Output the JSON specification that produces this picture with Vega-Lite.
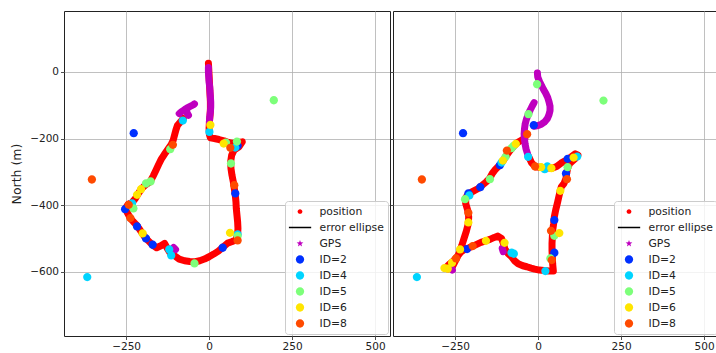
{
"$schema": "https://vega.github.io/schema/vega-lite/v6.json",
"padding": {"left": 10, "top": 10, "right": 0, "bottom": 0},
"background": "white",
"spacing": -3,
"config": {
  "font": "DejaVu Sans",
  "view": {"stroke": "#222222", "strokeWidth": 1},
  "axis": {"domain": false, "grid": true, "gridColor": "#b0b0b0", "gridWidth": 0.8, "tickColor": "#222222", "tickSize": 3.5, "tickWidth": 0.8, "labelFontSize": 10.5, "labelColor": "#222222", "labelPadding": 2, "titleFontSize": 12.5, "titleFontWeight": "normal", "titleColor": "#222222", "labelFont": "DejaVu Sans", "titleFont": "DejaVu Sans"},
  "legend": {"orient": "bottom-right", "offset": 2, "padding": 3.5, "fillColor": "rgba(255,255,255,0.8)", "strokeColor": "#cccccc", "cornerRadius": 3, "symbolSize": 500, "clipHeight": 14, "rowPadding": 2, "labelOffset": 8, "labelFontSize": 10.8, "labelColor": "#222222", "labelFont": "DejaVu Sans", "symbolStrokeWidth": 0, "symbolOffset": 0, "labelLimit": 0}
},
"resolve": {"scale": {"color": "independent", "shape": "independent"}, "legend": {"color": "independent", "shape": "independent"}},
"datasets": {
  "pathL": [
    {"i":1,"x":-2,"y":26},{"i":2,"x":-1,"y":10},{"i":3,"x":0,"y":-10},{"i":4,"x":1,"y":-30},{"i":5,"x":2,"y":-50},{"i":6,"x":3,"y":-70},{"i":7,"x":4,"y":-90},{"i":8,"x":4,"y":-110},{"i":9,"x":3,"y":-130},{"i":10,"x":1,"y":-150},
    {"i":11,"x":0,"y":-170},{"i":12,"x":1,"y":-188},{"i":13,"x":4,"y":-198},{"i":14,"x":16,"y":-200},{"i":15,"x":30,"y":-203},{"i":16,"x":45,"y":-207},{"i":17,"x":58,"y":-212},{"i":18,"x":72,"y":-215},{"i":19,"x":86,"y":-212},{"i":20,"x":100,"y":-210},
    {"i":21,"x":90,"y":-225},{"i":22,"x":75,"y":-235},{"i":23,"x":68,"y":-250},{"i":24,"x":65,"y":-270},{"i":25,"x":66,"y":-290},{"i":26,"x":69,"y":-310},{"i":27,"x":73,"y":-330},{"i":28,"x":76,"y":-350},{"i":29,"x":79,"y":-370},{"i":30,"x":81,"y":-390},
    {"i":31,"x":82,"y":-410},{"i":32,"x":84,"y":-430},{"i":33,"x":86,"y":-450},{"i":34,"x":87,"y":-470},{"i":35,"x":86,"y":-490},{"i":36,"x":80,"y":-505},{"i":37,"x":68,"y":-510},{"i":38,"x":56,"y":-514},{"i":39,"x":42,"y":-526},{"i":40,"x":28,"y":-538},
    {"i":41,"x":14,"y":-547},{"i":42,"x":0,"y":-555},{"i":43,"x":-14,"y":-562},{"i":44,"x":-28,"y":-567},{"i":45,"x":-42,"y":-570},{"i":46,"x":-58,"y":-569},{"i":47,"x":-74,"y":-567},{"i":48,"x":-90,"y":-562},{"i":49,"x":-104,"y":-552},{"i":50,"x":-117,"y":-544},
    {"i":51,"x":-126,"y":-530},{"i":52,"x":-134,"y":-515},{"i":53,"x":-145,"y":-522},{"i":54,"x":-158,"y":-528},{"i":55,"x":-170,"y":-520},{"i":56,"x":-182,"y":-508},{"i":57,"x":-192,"y":-498},{"i":58,"x":-201,"y":-485},{"i":59,"x":-210,"y":-472},{"i":60,"x":-218,"y":-460},
    {"i":61,"x":-228,"y":-450},{"i":62,"x":-237,"y":-440},{"i":63,"x":-245,"y":-425},{"i":64,"x":-252,"y":-410},{"i":65,"x":-244,"y":-398},{"i":66,"x":-232,"y":-392},{"i":67,"x":-222,"y":-380},{"i":68,"x":-213,"y":-365},{"i":69,"x":-203,"y":-350},{"i":70,"x":-190,"y":-338},
    {"i":71,"x":-178,"y":-330},{"i":72,"x":-168,"y":-312},{"i":73,"x":-160,"y":-295},{"i":74,"x":-152,"y":-278},{"i":75,"x":-144,"y":-262},{"i":76,"x":-135,"y":-248},{"i":77,"x":-124,"y":-232},{"i":78,"x":-114,"y":-218},{"i":79,"x":-108,"y":-205},{"i":80,"x":-104,"y":-190},
    {"i":81,"x":-100,"y":-175},{"i":82,"x":-95,"y":-160},{"i":83,"x":-86,"y":-150},{"i":84,"x":-78,"y":-140}
  ],
  "gpsL": [
    {"g":"a","i":1,"x":-2,"y":13},{"g":"a","i":2,"x":-2,"y":0},{"g":"a","i":3,"x":-1,"y":-15},{"g":"a","i":4,"x":0,"y":-30},{"g":"a","i":5,"x":2,"y":-45},{"g":"a","i":6,"x":3,"y":-60},{"g":"a","i":7,"x":4,"y":-75},{"g":"a","i":8,"x":5,"y":-90},{"g":"a","i":9,"x":5,"y":-105},{"g":"a","i":10,"x":4,"y":-120},{"g":"a","i":11,"x":2,"y":-135},{"g":"a","i":12,"x":1,"y":-150},
    {"g":"b","i":1,"x":-90,"y":-125},{"g":"b","i":2,"x":-84,"y":-120},{"g":"b","i":3,"x":-78,"y":-116},{"g":"b","i":4,"x":-72,"y":-112},{"g":"b","i":5,"x":-66,"y":-108},{"g":"b","i":6,"x":-60,"y":-105},{"g":"b","i":7,"x":-54,"y":-102},{"g":"b","i":8,"x":-48,"y":-99},{"g":"b","i":9,"x":-44,"y":-96},
    {"g":"c","i":1,"x":-68,"y":-112},{"g":"c","i":2,"x":-66,"y":-124},{"g":"c","i":3,"x":-62,"y":-130},
    {"g":"d","i":1,"x":-107,"y":-527},{"g":"d","i":2,"x":-101,"y":-533}
  ],
  "idsL": [
    {"s":"ID=2","x":-227,"y":-184},{"s":"ID=2","x":86,"y":-222},{"s":"ID=2","x":79,"y":-365},{"s":"ID=2","x":-253,"y":-412},{"s":"ID=2","x":-217,"y":-464},{"s":"ID=2","x":-190,"y":-500},{"s":"ID=2","x":-170,"y":-519},{"s":"ID=2","x":41,"y":-528},
    {"s":"ID=4","x":-79,"y":-146},{"s":"ID=4","x":1,"y":-180},{"s":"ID=4","x":79,"y":-227},{"s":"ID=4","x":-232,"y":-395},{"s":"ID=4","x":86,"y":-488},{"s":"ID=4","x":-120,"y":-533},{"s":"ID=4","x":-114,"y":-551},{"s":"ID=4","x":-367,"y":-616},
    {"s":"ID=5","x":195,"y":-85},{"s":"ID=5","x":-117,"y":-232},{"s":"ID=5","x":51,"y":-212},{"s":"ID=5","x":84,"y":-209},{"s":"ID=5","x":66,"y":-275},{"s":"ID=5","x":-190,"y":-335},{"s":"ID=5","x":-176,"y":-329},{"s":"ID=5","x":-228,"y":-410},{"s":"ID=5","x":-44,"y":-575},{"s":"ID=5","x":86,"y":-493},
    {"s":"ID=6","x":4,"y":-159},{"s":"ID=6","x":44,"y":-215},{"s":"ID=6","x":-217,"y":-369},{"s":"ID=6","x":-205,"y":-352},{"s":"ID=6","x":-200,"y":-485},{"s":"ID=6","x":63,"y":-483},
    {"s":"ID=8","x":-353,"y":-323},{"s":"ID=8","x":-109,"y":-219},{"s":"ID=8","x":64,"y":-228},{"s":"ID=8","x":76,"y":-340},{"s":"ID=8","x":-242,"y":-399},{"s":"ID=8","x":-237,"y":-439},{"s":"ID=8","x":86,"y":-506}
  ],
  "pathR": [
    {"i":1,"x":-28,"y":-255},{"i":2,"x":-20,"y":-272},{"i":3,"x":-8,"y":-285},{"i":4,"x":9,"y":-287},{"i":5,"x":24,"y":-288},{"i":6,"x":42,"y":-289},{"i":7,"x":56,"y":-284},{"i":8,"x":69,"y":-274},{"i":9,"x":80,"y":-268},{"i":10,"x":90,"y":-262},
    {"i":11,"x":100,"y":-255},{"i":12,"x":112,"y":-246},{"i":13,"x":120,"y":-250},{"i":14,"x":110,"y":-262},{"i":15,"x":95,"y":-275},{"i":16,"x":89,"y":-290},{"i":17,"x":86,"y":-305},{"i":18,"x":84,"y":-320},{"i":19,"x":78,"y":-335},{"i":20,"x":70,"y":-345},
    {"i":21,"x":66,"y":-360},{"i":22,"x":62,"y":-377},{"i":23,"x":58,"y":-395},{"i":24,"x":53,"y":-415},{"i":25,"x":49,"y":-435},{"i":26,"x":47,"y":-455},{"i":27,"x":44,"y":-475},{"i":28,"x":43,"y":-495},{"i":29,"x":42,"y":-515},{"i":30,"x":42,"y":-537},
    {"i":31,"x":43,"y":-557},{"i":32,"x":44,"y":-577},{"i":33,"x":46,"y":-598},{"i":34,"x":32,"y":-598},{"i":35,"x":18,"y":-596},{"i":36,"x":4,"y":-595},{"i":37,"x":-10,"y":-592},{"i":38,"x":-21,"y":-589},{"i":39,"x":-34,"y":-585},{"i":40,"x":-46,"y":-582},
    {"i":41,"x":-60,"y":-576},{"i":42,"x":-71,"y":-567},{"i":43,"x":-80,"y":-555},{"i":44,"x":-90,"y":-546},{"i":45,"x":-100,"y":-532},{"i":46,"x":-104,"y":-516},{"i":47,"x":-110,"y":-500},{"i":48,"x":-121,"y":-493},{"i":49,"x":-132,"y":-497},{"i":50,"x":-145,"y":-503},
    {"i":51,"x":-157,"y":-507},{"i":52,"x":-172,"y":-512},{"i":53,"x":-185,"y":-518},{"i":54,"x":-196,"y":-523},{"i":55,"x":-208,"y":-528},{"i":56,"x":-220,"y":-532},{"i":57,"x":-232,"y":-540},{"i":58,"x":-244,"y":-555},{"i":59,"x":-256,"y":-568},{"i":60,"x":-268,"y":-578},
    {"i":61,"x":-280,"y":-590},{"i":62,"x":-270,"y":-592},{"i":63,"x":-258,"y":-585},{"i":64,"x":-248,"y":-565},{"i":65,"x":-238,"y":-545},{"i":66,"x":-230,"y":-522},{"i":67,"x":-223,"y":-500},{"i":68,"x":-216,"y":-478},{"i":69,"x":-210,"y":-455},{"i":70,"x":-209,"y":-435},
    {"i":71,"x":-212,"y":-415},{"i":72,"x":-218,"y":-395},{"i":73,"x":-218,"y":-378},{"i":74,"x":-210,"y":-366},{"i":75,"x":-195,"y":-358},{"i":76,"x":-180,"y":-350},{"i":77,"x":-168,"y":-340},{"i":78,"x":-156,"y":-330},{"i":79,"x":-146,"y":-320},{"i":80,"x":-138,"y":-305},
    {"i":81,"x":-128,"y":-292},{"i":82,"x":-116,"y":-280},{"i":83,"x":-105,"y":-266},{"i":84,"x":-96,"y":-252},{"i":85,"x":-86,"y":-238},{"i":86,"x":-74,"y":-224},{"i":87,"x":-62,"y":-212},{"i":88,"x":-50,"y":-205},{"i":89,"x":-40,"y":-200}
  ],
  "gpsR": [
    {"g":"a","i":1,"x":-2,"y":-3},{"g":"a","i":2,"x":-1,"y":-15},{"g":"a","i":3,"x":4,"y":-28},{"g":"a","i":4,"x":10,"y":-40},{"g":"a","i":5,"x":16,"y":-52},{"g":"a","i":6,"x":23,"y":-64},{"g":"a","i":7,"x":29,"y":-77},{"g":"a","i":8,"x":33,"y":-90},{"g":"a","i":9,"x":36,"y":-103},{"g":"a","i":10,"x":36,"y":-116},{"g":"a","i":11,"x":33,"y":-128},{"g":"a","i":12,"x":28,"y":-140},{"g":"a","i":13,"x":20,"y":-150},{"g":"a","i":14,"x":10,"y":-157},{"g":"a","i":15,"x":0,"y":-161},{"g":"a","i":16,"x":-12,"y":-163},
    {"g":"b","i":1,"x":-12,"y":-92},{"g":"b","i":2,"x":-18,"y":-103},{"g":"b","i":3,"x":-24,"y":-115},{"g":"b","i":4,"x":-30,"y":-128},{"g":"b","i":5,"x":-35,"y":-142},{"g":"b","i":6,"x":-39,"y":-157},{"g":"b","i":7,"x":-41,"y":-172},{"g":"b","i":8,"x":-42,"y":-187},{"g":"b","i":9,"x":-41,"y":-202},{"g":"b","i":10,"x":-39,"y":-217},{"g":"b","i":11,"x":-36,"y":-232},{"g":"b","i":12,"x":-32,"y":-245},{"g":"b","i":13,"x":-29,"y":-256},
    {"g":"c","i":1,"x":-108,"y":-530},{"g":"c","i":2,"x":-105,"y":-540},
    {"g":"d","i":1,"x":-261,"y":-590},{"g":"d","i":2,"x":-258,"y":-595}
  ],
  "idsR": [
    {"s":"ID=2","x":-226,"y":-184},{"s":"ID=2","x":-13,"y":-160},{"s":"ID=2","x":89,"y":-261},{"s":"ID=2","x":84,"y":-305},{"s":"ID=2","x":-115,"y":-280},{"s":"ID=2","x":-174,"y":-346},{"s":"ID=2","x":-210,"y":-365},{"s":"ID=2","x":-214,"y":-532},{"s":"ID=2","x":49,"y":-445},{"s":"ID=2","x":49,"y":-543},
    {"s":"ID=4","x":-365,"y":-616},{"s":"ID=4","x":-30,"y":-255},{"s":"ID=4","x":20,"y":-292},{"s":"ID=4","x":28,"y":-284},{"s":"ID=4","x":-110,"y":-272},{"s":"ID=4","x":-207,"y":-371},{"s":"ID=4","x":118,"y":-254},{"s":"ID=4","x":-80,"y":-543},{"s":"ID=4","x":-73,"y":-546},{"s":"ID=4","x":22,"y":-598},
    {"s":"ID=5","x":197,"y":-86},{"s":"ID=5","x":-3,"y":-37},{"s":"ID=5","x":-29,"y":-127},{"s":"ID=5","x":-74,"y":-222},{"s":"ID=5","x":-80,"y":-229},{"s":"ID=5","x":-98,"y":-255},{"s":"ID=5","x":-145,"y":-322},{"s":"ID=5","x":-220,"y":-382},{"s":"ID=5","x":89,"y":-286},{"s":"ID=5","x":49,"y":-492},{"s":"ID=5","x":37,"y":-560},
    {"s":"ID=6","x":9,"y":-286},{"s":"ID=6","x":40,"y":-289},{"s":"ID=6","x":107,"y":-257},{"s":"ID=6","x":-67,"y":-216},{"s":"ID=6","x":-106,"y":-266},{"s":"ID=6","x":67,"y":-357},{"s":"ID=6","x":64,"y":-484},{"s":"ID=6","x":-210,"y":-452},{"s":"ID=6","x":-157,"y":-507},{"s":"ID=6","x":-101,"y":-513},{"s":"ID=6","x":-235,"y":-533},{"s":"ID=6","x":-259,"y":-573},{"s":"ID=6","x":-282,"y":-589},{"s":"ID=6","x":-272,"y":-591},
    {"s":"ID=8","x":-350,"y":-323},{"s":"ID=8","x":-33,"y":-187},{"s":"ID=8","x":-9,"y":-284},{"s":"ID=8","x":-94,"y":-236},{"s":"ID=8","x":87,"y":-322},{"s":"ID=8","x":-210,"y":-423},{"s":"ID=8","x":-247,"y":-560},{"s":"ID=8","x":-197,"y":-523},{"s":"ID=8","x":39,"y":-477},{"s":"ID=8","x":41,"y":-565}
  ]
},
"hconcat": [
  {
    "width": 326, "height": 325,
    "encoding": {
      "x": {"field": "x", "type": "quantitative", "scale": {"domain": [-437, 545], "nice": false, "zero": false}, "axis": {"values": [-250, 0, 250, 500], "title": null}},
      "y": {"field": "y", "type": "quantitative", "scale": {"domain": [-793, 183], "nice": false, "zero": false}, "axis": {"values": [0, -200, -400, -600], "title": "North (m)", "titlePadding": 6}}
    },
    "layer": [
      {"data": {"name": "pathL"}, "mark": {"type": "line", "color": "#ff0000", "strokeWidth": 7, "strokeCap": "round", "strokeJoin": "round"}, "encoding": {"order": {"field": "i", "type": "quantitative"}}},
      {"data": {"name": "pathL"}, "mark": {"type": "point", "filled": true, "opacity": 1, "size": 500},
       "encoding": {
        "color": {"datum": "position", "type": "nominal", "scale": {"domain": ["position","error ellipse","GPS","ID=2","ID=4","ID=5","ID=6","ID=8"], "range": ["#ff0000","#000000","#bf00bf","#0030ff","#00d4ff","#7dff7a","#ffe500","#ff4a00"]}, "legend": {"title": null}},
        "shape": {"datum": "position", "type": "nominal", "scale": {"domain": ["position","error ellipse","GPS","ID=2","ID=4","ID=5","ID=6","ID=8"], "range": ["M0.21,0A0.21,0.21,0,1,1,-0.21,0A0.21,0.21,0,1,1,0.21,0Z","M-1,-0.07L1,-0.07L1,0.07L-1,0.07Z","M0,-0.32L0.076,-0.105L0.304,-0.099L0.124,0.04L0.188,0.259L0,0.13L-0.188,0.259L-0.124,0.04L-0.304,-0.099L-0.076,-0.105Z","M0.37,0A0.37,0.37,0,1,1,-0.37,0A0.37,0.37,0,1,1,0.37,0Z","M0.37,0A0.37,0.37,0,1,1,-0.37,0A0.37,0.37,0,1,1,0.37,0Z","M0.37,0A0.37,0.37,0,1,1,-0.37,0A0.37,0.37,0,1,1,0.37,0Z","M0.37,0A0.37,0.37,0,1,1,-0.37,0A0.37,0.37,0,1,1,0.37,0Z","M0.37,0A0.37,0.37,0,1,1,-0.37,0A0.37,0.37,0,1,1,0.37,0Z"]}, "legend": {"title": null}}
       }},
      {"data": {"name": "gpsL"}, "mark": {"type": "line", "color": "#bf00bf", "strokeWidth": 7, "strokeCap": "round", "strokeJoin": "round"}, "encoding": {"detail": {"field": "g", "type": "nominal"}, "order": {"field": "i", "type": "quantitative"}}},
      {"data": {"name": "gpsL"}, "mark": {"type": "point", "filled": true, "opacity": 1, "size": 500},
       "encoding": {
        "color": {"datum": "GPS", "type": "nominal", "scale": {"domain": ["position","error ellipse","GPS","ID=2","ID=4","ID=5","ID=6","ID=8"], "range": ["#ff0000","#000000","#bf00bf","#0030ff","#00d4ff","#7dff7a","#ffe500","#ff4a00"]}, "legend": {"title": null}},
        "shape": {"datum": "GPS", "type": "nominal", "scale": {"domain": ["position","error ellipse","GPS","ID=2","ID=4","ID=5","ID=6","ID=8"], "range": ["M0.21,0A0.21,0.21,0,1,1,-0.21,0A0.21,0.21,0,1,1,0.21,0Z","M-1,-0.07L1,-0.07L1,0.07L-1,0.07Z","M0,-0.32L0.076,-0.105L0.304,-0.099L0.124,0.04L0.188,0.259L0,0.13L-0.188,0.259L-0.124,0.04L-0.304,-0.099L-0.076,-0.105Z","M0.37,0A0.37,0.37,0,1,1,-0.37,0A0.37,0.37,0,1,1,0.37,0Z","M0.37,0A0.37,0.37,0,1,1,-0.37,0A0.37,0.37,0,1,1,0.37,0Z","M0.37,0A0.37,0.37,0,1,1,-0.37,0A0.37,0.37,0,1,1,0.37,0Z","M0.37,0A0.37,0.37,0,1,1,-0.37,0A0.37,0.37,0,1,1,0.37,0Z","M0.37,0A0.37,0.37,0,1,1,-0.37,0A0.37,0.37,0,1,1,0.37,0Z"]}, "legend": {"title": null}}
       }},
      {"data": {"name": "idsL"}, "mark": {"type": "point", "filled": true, "opacity": 1, "size": 500},
       "encoding": {
        "color": {"field": "s", "type": "nominal", "scale": {"domain": ["position","error ellipse","GPS","ID=2","ID=4","ID=5","ID=6","ID=8"], "range": ["#ff0000","#000000","#bf00bf","#0030ff","#00d4ff","#7dff7a","#ffe500","#ff4a00"]}, "legend": {"title": null}},
        "shape": {"field": "s", "type": "nominal", "scale": {"domain": ["position","error ellipse","GPS","ID=2","ID=4","ID=5","ID=6","ID=8"], "range": ["M0.21,0A0.21,0.21,0,1,1,-0.21,0A0.21,0.21,0,1,1,0.21,0Z","M-1,-0.07L1,-0.07L1,0.07L-1,0.07Z","M0,-0.32L0.076,-0.105L0.304,-0.099L0.124,0.04L0.188,0.259L0,0.13L-0.188,0.259L-0.124,0.04L-0.304,-0.099L-0.076,-0.105Z","M0.37,0A0.37,0.37,0,1,1,-0.37,0A0.37,0.37,0,1,1,0.37,0Z","M0.37,0A0.37,0.37,0,1,1,-0.37,0A0.37,0.37,0,1,1,0.37,0Z","M0.37,0A0.37,0.37,0,1,1,-0.37,0A0.37,0.37,0,1,1,0.37,0Z","M0.37,0A0.37,0.37,0,1,1,-0.37,0A0.37,0.37,0,1,1,0.37,0Z","M0.37,0A0.37,0.37,0,1,1,-0.37,0A0.37,0.37,0,1,1,0.37,0Z"]}, "legend": {"title": null}}
       }}
    ]
  },
  {
    "width": 326, "height": 325,
    "encoding": {
      "x": {"field": "x", "type": "quantitative", "scale": {"domain": [-437, 545], "nice": false, "zero": false}, "axis": {"values": [-250, 0, 250, 500], "title": null}},
      "y": {"field": "y", "type": "quantitative", "scale": {"domain": [-793, 183], "nice": false, "zero": false}, "axis": {"values": [0, -200, -400, -600], "title": null, "labels": false}}
    },
    "layer": [
      {"data": {"name": "pathR"}, "mark": {"type": "line", "color": "#ff0000", "strokeWidth": 7, "strokeCap": "round", "strokeJoin": "round"}, "encoding": {"order": {"field": "i", "type": "quantitative"}}},
      {"data": {"name": "pathR"}, "mark": {"type": "point", "filled": true, "opacity": 1, "size": 500},
       "encoding": {
        "color": {"datum": "position", "type": "nominal", "scale": {"domain": ["position","error ellipse","GPS","ID=2","ID=4","ID=5","ID=6","ID=8"], "range": ["#ff0000","#000000","#bf00bf","#0030ff","#00d4ff","#7dff7a","#ffe500","#ff4a00"]}, "legend": {"title": null}},
        "shape": {"datum": "position", "type": "nominal", "scale": {"domain": ["position","error ellipse","GPS","ID=2","ID=4","ID=5","ID=6","ID=8"], "range": ["M0.21,0A0.21,0.21,0,1,1,-0.21,0A0.21,0.21,0,1,1,0.21,0Z","M-1,-0.07L1,-0.07L1,0.07L-1,0.07Z","M0,-0.32L0.076,-0.105L0.304,-0.099L0.124,0.04L0.188,0.259L0,0.13L-0.188,0.259L-0.124,0.04L-0.304,-0.099L-0.076,-0.105Z","M0.37,0A0.37,0.37,0,1,1,-0.37,0A0.37,0.37,0,1,1,0.37,0Z","M0.37,0A0.37,0.37,0,1,1,-0.37,0A0.37,0.37,0,1,1,0.37,0Z","M0.37,0A0.37,0.37,0,1,1,-0.37,0A0.37,0.37,0,1,1,0.37,0Z","M0.37,0A0.37,0.37,0,1,1,-0.37,0A0.37,0.37,0,1,1,0.37,0Z","M0.37,0A0.37,0.37,0,1,1,-0.37,0A0.37,0.37,0,1,1,0.37,0Z"]}, "legend": {"title": null}}
       }},
      {"data": {"name": "gpsR"}, "mark": {"type": "line", "color": "#bf00bf", "strokeWidth": 7, "strokeCap": "round", "strokeJoin": "round"}, "encoding": {"detail": {"field": "g", "type": "nominal"}, "order": {"field": "i", "type": "quantitative"}}},
      {"data": {"name": "gpsR"}, "mark": {"type": "point", "filled": true, "opacity": 1, "size": 500},
       "encoding": {
        "color": {"datum": "GPS", "type": "nominal", "scale": {"domain": ["position","error ellipse","GPS","ID=2","ID=4","ID=5","ID=6","ID=8"], "range": ["#ff0000","#000000","#bf00bf","#0030ff","#00d4ff","#7dff7a","#ffe500","#ff4a00"]}, "legend": {"title": null}},
        "shape": {"datum": "GPS", "type": "nominal", "scale": {"domain": ["position","error ellipse","GPS","ID=2","ID=4","ID=5","ID=6","ID=8"], "range": ["M0.21,0A0.21,0.21,0,1,1,-0.21,0A0.21,0.21,0,1,1,0.21,0Z","M-1,-0.07L1,-0.07L1,0.07L-1,0.07Z","M0,-0.32L0.076,-0.105L0.304,-0.099L0.124,0.04L0.188,0.259L0,0.13L-0.188,0.259L-0.124,0.04L-0.304,-0.099L-0.076,-0.105Z","M0.37,0A0.37,0.37,0,1,1,-0.37,0A0.37,0.37,0,1,1,0.37,0Z","M0.37,0A0.37,0.37,0,1,1,-0.37,0A0.37,0.37,0,1,1,0.37,0Z","M0.37,0A0.37,0.37,0,1,1,-0.37,0A0.37,0.37,0,1,1,0.37,0Z","M0.37,0A0.37,0.37,0,1,1,-0.37,0A0.37,0.37,0,1,1,0.37,0Z","M0.37,0A0.37,0.37,0,1,1,-0.37,0A0.37,0.37,0,1,1,0.37,0Z"]}, "legend": {"title": null}}
       }},
      {"data": {"name": "idsR"}, "mark": {"type": "point", "filled": true, "opacity": 1, "size": 500},
       "encoding": {
        "color": {"field": "s", "type": "nominal", "scale": {"domain": ["position","error ellipse","GPS","ID=2","ID=4","ID=5","ID=6","ID=8"], "range": ["#ff0000","#000000","#bf00bf","#0030ff","#00d4ff","#7dff7a","#ffe500","#ff4a00"]}, "legend": {"title": null}},
        "shape": {"field": "s", "type": "nominal", "scale": {"domain": ["position","error ellipse","GPS","ID=2","ID=4","ID=5","ID=6","ID=8"], "range": ["M0.21,0A0.21,0.21,0,1,1,-0.21,0A0.21,0.21,0,1,1,0.21,0Z","M-1,-0.07L1,-0.07L1,0.07L-1,0.07Z","M0,-0.32L0.076,-0.105L0.304,-0.099L0.124,0.04L0.188,0.259L0,0.13L-0.188,0.259L-0.124,0.04L-0.304,-0.099L-0.076,-0.105Z","M0.37,0A0.37,0.37,0,1,1,-0.37,0A0.37,0.37,0,1,1,0.37,0Z","M0.37,0A0.37,0.37,0,1,1,-0.37,0A0.37,0.37,0,1,1,0.37,0Z","M0.37,0A0.37,0.37,0,1,1,-0.37,0A0.37,0.37,0,1,1,0.37,0Z","M0.37,0A0.37,0.37,0,1,1,-0.37,0A0.37,0.37,0,1,1,0.37,0Z","M0.37,0A0.37,0.37,0,1,1,-0.37,0A0.37,0.37,0,1,1,0.37,0Z"]}, "legend": {"title": null}}
       }}
    ]
  }
]
}
